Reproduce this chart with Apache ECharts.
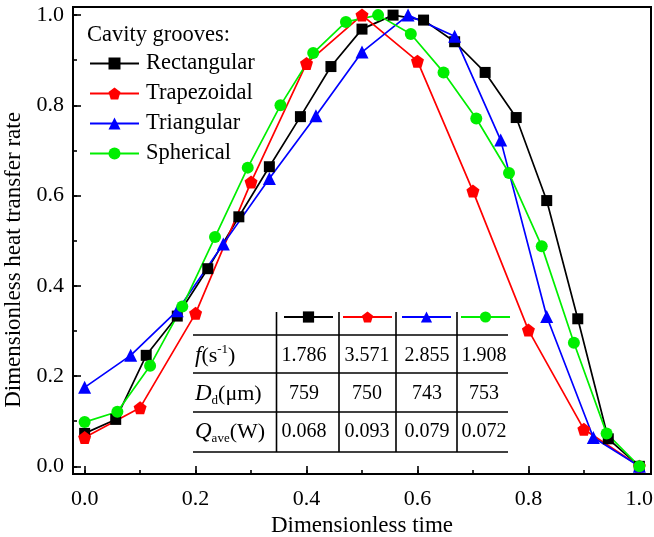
<!DOCTYPE html>
<html><head><meta charset="utf-8">
<script src="https://cdn.jsdelivr.net/npm/echarts@6/dist/echarts.min.js"></script>
<style>html,body{margin:0;padding:0;background:#fff}#c{width:654px;height:537px}</style>
</head><body><div id="c"></div>
<script>
// ---------- data ----------
const seriesNames = ['Rectangular', 'Trapezoidal', 'Triangular', 'Spherical'];
const rectX = [0, 0.056, 0.111, 0.167, 0.222, 0.278, 0.333, 0.389, 0.444, 0.5, 0.556, 0.611, 0.667, 0.722, 0.778, 0.833, 0.889, 0.944, 1.0];
const rectY = [0.073, 0.104, 0.246, 0.333, 0.438, 0.553, 0.664, 0.775, 0.886, 0.969, 1.0, 0.989, 0.941, 0.873, 0.773, 0.589, 0.327, 0.061, 0.0];
const trapX = [0, 0.1, 0.2, 0.3, 0.4, 0.5, 0.6, 0.7, 0.8, 0.9, 1.0];
const trapY = [0.064, 0.130, 0.339, 0.630, 0.893, 1.0, 0.898, 0.610, 0.302, 0.082, 0.0];
const triX = [0, 0.083, 0.167, 0.25, 0.333, 0.417, 0.5, 0.583, 0.667, 0.75, 0.833, 0.917, 1.0];
const triY = [0.175, 0.246, 0.345, 0.493, 0.638, 0.777, 0.918, 1.0, 0.953, 0.723, 0.332, 0.064, 0.0];
const sphX = [0, 0.059, 0.118, 0.176, 0.235, 0.294, 0.353, 0.412, 0.471, 0.529, 0.588, 0.647, 0.706, 0.765, 0.824, 0.882, 0.941, 1.0];
const sphY = [0.098, 0.121, 0.223, 0.354, 0.508, 0.662, 0.800, 0.916, 0.985, 1.0, 0.958, 0.873, 0.771, 0.650, 0.488, 0.274, 0.073, 0.0];

const xMajorTicks = [0, 0.2, 0.4, 0.6, 0.8, 1.0];
const xMinorTicks = [0, 0.1, 0.2, 0.3, 0.4, 0.5, 0.6, 0.7, 0.8, 0.9, 1.0];
const yMajorTicks = [0, 0.2, 0.4, 0.6, 0.8, 1.0];
const yMinorTicks = [0, 0.1, 0.2, 0.3, 0.4, 0.5, 0.6, 0.7, 0.8, 0.9, 1.0];

const legendTitle = 'Cavity grooves:';
const xTitle = 'Dimensionless time';
const yTitle = 'Dimensionless heat transfer rate';

const freqValues = ['1.786', '3.571', '2.855', '1.908'];
const diamValues = ['759', '750', '743', '753'];
const heatValues = ['0.068', '0.093', '0.079', '0.072'];

// ---------- styling ----------
const FONT = 'Liberation Serif, Times New Roman, serif';
const colors = ['#000000', '#ff0000', '#0000ff', '#00ee00'];
const pentagon = 'path://M0,-10 L9.511,-3.09 L5.878,8.09 L-5.878,8.09 L-9.511,-3.09 Z';
const symbols = ['rect', pentagon, 'triangle', 'circle'];
const symbolSizes = [11, 13, 13, 12];
const xs = [rectX, trapX, triX, sphX];
const ys = [rectY, trapY, triY, sphY];

const X_MIN = -0.021, X_MAX = 1.021, Y_MIN = -0.017, Y_MAX = 1.018;

function pairs(a, b) { return a.map((v, i) => [v, b[i]]); }

const series = seriesNames.map((name, k) => ({
  name: name,
  type: 'line',
  xAxisIndex: 0, yAxisIndex: 0,
  data: pairs(xs[k], ys[k]),
  symbol: symbols[k],
  symbolSize: symbolSizes[k],
  showAllSymbol: true,
  color: colors[k],
  lineStyle: { color: colors[k], width: 1.7 },
  itemStyle: { color: colors[k] },
  emphasis: { disabled: true },
  animation: false
}));

// ---------- table (graphic) ----------
const tblLeft = 193, tblRight = 508;
const hLines = [335, 373, 412, 452];
const vLines = [276.5, 339, 396, 457];
const colCenters = [304, 367, 427, 484];
const rowCenters = [356, 394, 432];
const graphic = [];
hLines.forEach(y => graphic.push({ type: 'line', shape: { x1: tblLeft, y1: y, x2: tblRight, y2: y }, style: { stroke: '#000', lineWidth: 1.6 }, z: 50 }));
vLines.forEach(x => graphic.push({ type: 'line', shape: { x1: x, y1: 312, x2: x, y2: 452 }, style: { stroke: '#000', lineWidth: 1.6 }, z: 50 }));
[freqValues, diamValues, heatValues].forEach((row, r) => {
  row.forEach((txt, c) => graphic.push({
    type: 'text', x: colCenters[c], y: rowCenters[r], z: 50,
    style: { text: txt, font: '20px ' + FONT, fill: '#000', align: 'center', verticalAlign: 'middle' }
  }));
});
const richBase = {
  it: { fontFamily: FONT, fontSize: 23, fontStyle: 'italic', fill: '#000' },
  n: { fontFamily: FONT, fontSize: 22, fill: '#000' },
  sup: { fontFamily: FONT, fontSize: 13, fill: '#000', padding: [0, 0, 12, 0] },
  sub: { fontFamily: FONT, fontSize: 13, fill: '#000', padding: [14, 0, 0, 0] }
};
const rowLabels = ['{it|f}{n|(s}{sup|-1}{n|)}', '{it|D}{sub|d}{n|(μm)}', '{it|Q}{sub|ave}{n|(W)}'];
rowLabels.forEach((t, r) => graphic.push({
  type: 'text', x: 195, y: rowCenters[r], z: 50,
  style: { text: t, rich: richBase, align: 'left', verticalAlign: 'middle' }
}));
graphic.push({
  type: 'text', x: 87, y: 35, z: 50,
  style: { text: legendTitle, font: '22.5px ' + FONT, fill: '#000', align: 'left', verticalAlign: 'middle' }
});

function mkX(main) {
  return {
    type: 'value', min: X_MIN, max: X_MAX, position: 'bottom',
    axisLine: { show: main, onZero: false, lineStyle: { color: '#000', width: 2 } },
    axisTick: { show: true, inside: true, length: main ? 8 : 4, customValues: main ? xMajorTicks : xMinorTicks, lineStyle: { color: '#000', width: 1.6 } },
    axisLabel: main ? { show: true, customValues: xMajorTicks, formatter: v => v.toFixed(1), fontFamily: FONT, fontSize: 22, color: '#000', margin: 14 } : { show: false },
    splitLine: { show: false },
    name: main ? xTitle : '', nameLocation: 'middle', nameGap: 36,
    nameTextStyle: { fontFamily: FONT, fontSize: 23, color: '#000' }
  };
}
function mkY(main) {
  return {
    type: 'value', min: Y_MIN, max: Y_MAX, position: 'left',
    axisLine: { show: main, onZero: false, lineStyle: { color: '#000', width: 2 } },
    axisTick: { show: true, inside: true, length: main ? 8 : 4, customValues: main ? yMajorTicks : yMinorTicks, lineStyle: { color: '#000', width: 1.6 } },
    axisLabel: main ? { show: true, customValues: yMajorTicks, formatter: v => v.toFixed(1), fontFamily: FONT, fontSize: 22, color: '#000', margin: 9 } : { show: false },
    splitLine: { show: false },
    name: main ? yTitle : '', nameLocation: 'middle', nameGap: 40,
    nameTextStyle: { fontFamily: FONT, fontSize: 23, color: '#000', padding: [0, 39, 0, 0] }
  };
}

const option = {
  backgroundColor: '#fff',
  animation: false,
  grid: { left: 73, right: 3, top: 7, bottom: 63, show: true, borderColor: '#000', borderWidth: 2, backgroundColor: 'transparent', containLabel: false, outerBoundsMode: 'none' },
  xAxis: [mkX(true), mkX(false)],
  yAxis: [mkY(true), mkY(false)],
  legend: [
    {
      data: seriesNames, orient: 'vertical', left: 84, top: 47,
      itemWidth: 49, itemHeight: 15, itemGap: 7, selectedMode: false,
      textStyle: { fontFamily: FONT, fontSize: 22.5, color: '#000', lineHeight: 22, padding: [0, 0, 0, 2] }
    },
    {
      data: seriesNames, orient: 'horizontal', left: 278, top: 305,
      itemWidth: 49, itemHeight: 14, itemGap: 8, selectedMode: false,
      formatter: function () { return ''; },
      textStyle: { fontSize: 1 }
    }
  ],
  graphic: graphic,
  series: series
};
const chart = echarts.init(document.getElementById('c'), null, { renderer: 'canvas' });
chart.setOption(option);
</script>
</body></html>
